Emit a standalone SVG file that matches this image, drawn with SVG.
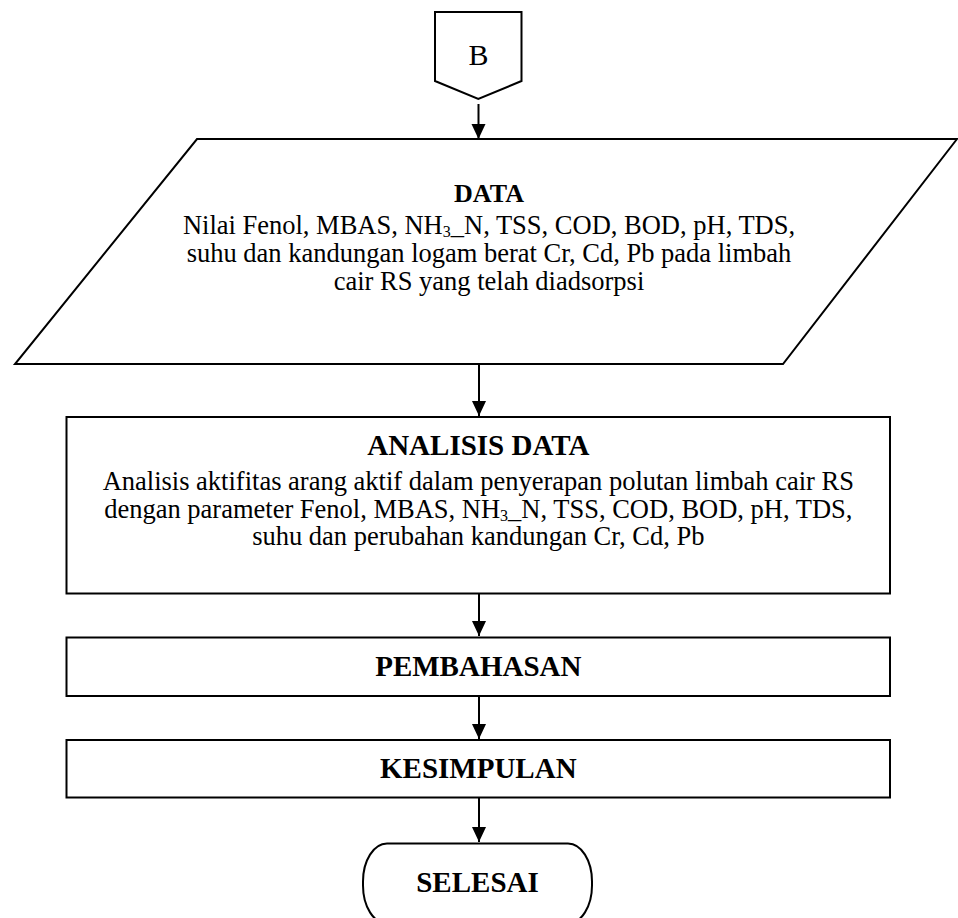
<svg xmlns="http://www.w3.org/2000/svg" width="958" height="918" viewBox="0 0 958 918">
  <defs>
    <style>
      .shape { fill: #ffffff; stroke: #000000; stroke-width: 2; }
      .conn { stroke: #000000; stroke-width: 2; fill: none; }
      .txt { font-family: "Liberation Serif", "Times New Roman", serif; fill: #000000; text-anchor: middle; }
      .reg { font-size: 26.5px; }
      .bold { font-weight: bold; }
    </style>
    <marker id="arrow" markerUnits="userSpaceOnUse" markerWidth="16" markerHeight="16" refX="15" refY="7" orient="auto">
      <path d="M0,0 L15,7 L0,14 Z" fill="#000000"/>
    </marker>
  </defs>
  <rect width="958" height="918" fill="#ffffff"/>

  <g id="connectors">
    <line class="conn" x1="478.5" y1="104" x2="478.5" y2="139" marker-end="url(#arrow)"/>
    <line class="conn" x1="479" y1="364" x2="479" y2="416" marker-end="url(#arrow)"/>
    <line class="conn" x1="479" y1="594" x2="479" y2="636" marker-end="url(#arrow)"/>
    <line class="conn" x1="479" y1="697" x2="479" y2="739" marker-end="url(#arrow)"/>
    <line class="conn" x1="479" y1="798" x2="479" y2="842" marker-end="url(#arrow)"/>
  </g>

  <g id="node-b">
    <polygon class="shape" points="435,12 521.5,12 521.5,81 478.3,99 435,81"/>
    <text class="txt" x="478.5" y="65" font-size="30">B</text>
  </g>

  <g id="node-data">
    <polygon class="shape" points="197,139 957,139 783,364 15,364"/>
    <text class="txt bold" x="489" y="201.5" font-size="26">DATA</text>
    <text class="txt reg" x="489" y="234">Nilai Fenol, MBAS, NH<tspan font-size="16" dy="3">3</tspan><tspan dy="-3">_N, TSS, COD, BOD, pH, TDS,</tspan></text>
    <text class="txt reg" x="489" y="262">suhu dan kandungan logam berat Cr, Cd, Pb pada limbah</text>
    <text class="txt reg" x="489" y="289.5">cair RS yang telah diadsorpsi</text>
  </g>

  <g id="node-analisis">
    <rect class="shape" x="66.5" y="417" width="823.5" height="176.5"/>
    <text class="txt bold" x="478.3" y="455" font-size="29">ANALISIS DATA</text>
    <text class="txt reg" x="478.3" y="490">Analisis aktifitas arang aktif dalam penyerapan polutan limbah cair RS</text>
    <text class="txt reg" x="478.3" y="518">dengan parameter Fenol, MBAS, NH<tspan font-size="16" dy="3">3</tspan><tspan dy="-3">_N, TSS, COD, BOD, pH, TDS,</tspan></text>
    <text class="txt reg" x="478.3" y="545">suhu dan perubahan kandungan Cr, Cd, Pb</text>
  </g>

  <g id="node-pembahasan">
    <rect class="shape" x="66.5" y="637.5" width="823.5" height="58.5"/>
    <text class="txt bold" x="478.3" y="676" font-size="29">PEMBAHASAN</text>
  </g>

  <g id="node-kesimpulan">
    <rect class="shape" x="66.5" y="740" width="823.5" height="57.5"/>
    <text class="txt bold" x="478.3" y="778" font-size="29">KESIMPULAN</text>
  </g>

  <g id="node-selesai">
    <rect class="shape" x="363" y="843.5" width="229" height="80" rx="24" ry="38"/>
    <text class="txt bold" x="477.5" y="891.5" font-size="29">SELESAI</text>
  </g>
</svg>
